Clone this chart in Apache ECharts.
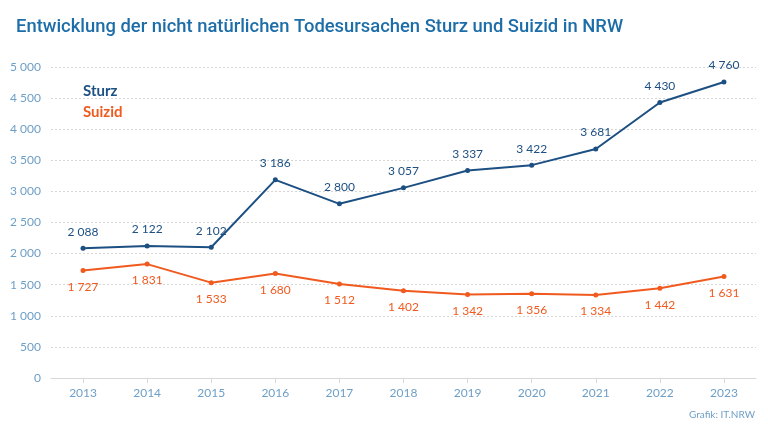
<!DOCTYPE html>
<html><head><meta charset="utf-8">
<script src="https://cdn.jsdelivr.net/npm/echarts@6/dist/echarts.min.js"></script>
<style>html,body{margin:0;padding:0;background:#fff}#c{width:768px;height:432px}</style>
</head><body><div id="c"></div>
<script>
const years = ['2013','2014','2015','2016','2017','2018','2019','2020','2021','2022','2023'];
const sturz = [2088,2122,2102,3186,2800,3057,3337,3422,3681,4430,4760];
const suizid = [1727,1831,1533,1680,1512,1402,1342,1356,1334,1442,1631];
const yTicks = [0,500,1000,1500,2000,2500,3000,3500,4000,4500,5000];

const fmt = v => { const s = String(v); return s.length > 3 ? s.slice(0, s.length-3) + ' ' + s.slice(-3) : s; };
const FONT = 'Lato';
const BLUE = '#1c4f82', ORANGE = '#f05a1e', AX = '#6e9fc6';
const chart = echarts.init(document.getElementById('c'));
chart.setOption({
  animation: false,
  textStyle: {fontFamily: FONT},
  title: {text: 'Entwicklung der nicht natürlichen Todesursachen Sturz und Suizid in NRW', left: 11, top: 13,
    textStyle: {fontFamily: 'Roboto', fontSize: 18.4, fontWeight: 500, color: '#1d6ea8'}},
  legend: {orient: 'vertical', left: 73, top: 79, icon: 'none', itemWidth: 0, itemGap: 6,
    data: [{name: 'Sturz', textStyle: {color: BLUE}}, {name: 'Suizid', textStyle: {color: ORANGE}}],
    textStyle: {fontFamily: FONT, fontSize: 15, fontWeight: 'bold'}, selectedMode: false},
  graphic: [{type: 'text', right: 13, top: 410, style: {text: 'Grafik: IT.NRW', fill: AX, font: '10px ' + FONT}}],
  grid: {left: 51, right: 12, top: 67, bottom: 54},
  xAxis: {type: 'category', data: years, boundaryGap: true,
    axisLine: {lineStyle: {color: '#d8d8d8'}}, axisTick: {show: true, alignWithLabel: true, lineStyle: {color: '#d8d8d8'}},
    axisLabel: {color: AX, fontSize: 12, margin: 9}},
  yAxis: {type: 'value', min: 0, max: 5000, interval: 500,
    axisLabel: {color: AX, fontSize: 12, margin: 10, formatter: v => fmt(v)},
    splitLine: {lineStyle: {color: '#d6d6d6', type: [2, 2]}}},
  series: [
    {name: 'Sturz', type: 'line', data: sturz, color: BLUE, symbol: 'circle', symbolSize: 5,
     lineStyle: {width: 2}, label: {show: true, position: 'top', distance: 8, color: BLUE, fontSize: 12, formatter: p => fmt(p.value)}},
    {name: 'Suizid', type: 'line', data: suizid, color: ORANGE, symbol: 'circle', symbolSize: 5,
     lineStyle: {width: 2}, label: {show: true, position: 'bottom', distance: 8, color: ORANGE, fontSize: 12, formatter: p => fmt(p.value)}}
  ]
});
</script></body></html>
